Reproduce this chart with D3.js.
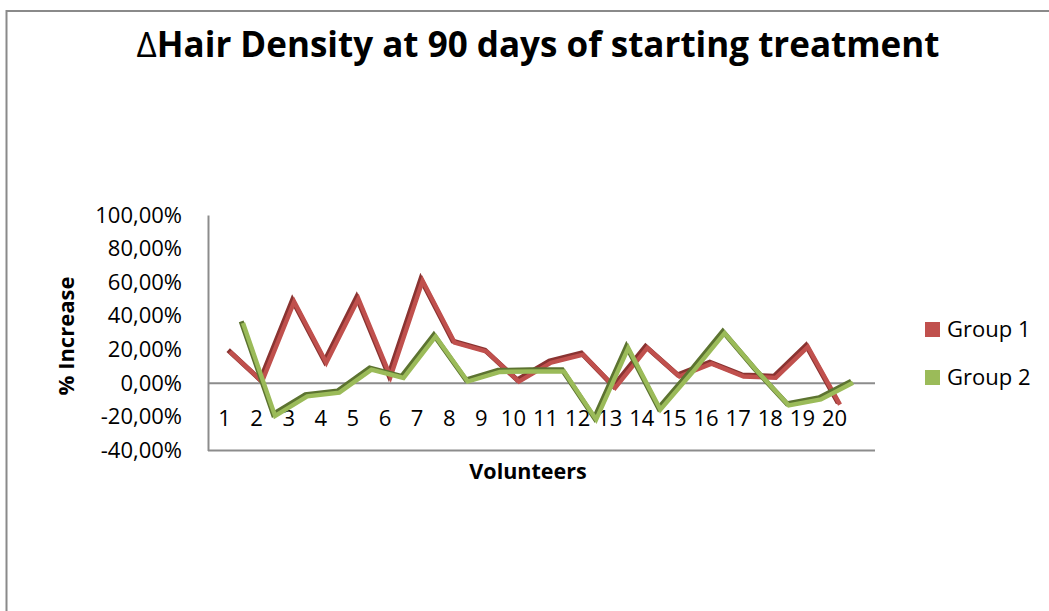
<!DOCTYPE html>
<html>
<head>
<meta charset="utf-8">
<script src="https://cdn.jsdelivr.net/npm/d3@7"></script>
<style>
  html, body { margin: 0; padding: 0; background: #ffffff; }
  svg { display: block; }
  text { font-family: "Open Sans", "Noto Sans", sans-serif; fill: #000; }
</style>
</head>
<body>
<svg id="chart" width="1049" height="611"></svg>
<script>
// Volunteers (x categories)
const categories = ["1","2","3","4","5","6","7","8","9","10",
                    "11","12","13","14","15","16","17","18","19","20"];
// % change in hair density after 90 days
const group1 = [18.7, 1.0, 48.4, 12.2, 50.2, 3.9, 60.9, 24.1, 18.7, 1.0,
                12.2, 17.0, -2.7, 21.0, 4.0, 11.6, 4.0, 3.2, 21.6, -12.7];
const group2 = [35.8, -19.4, -7.8, -5.6, 8.1, 3.1, 27.8, 1.0, 6.7, 7.0,
                7.0, -21.6, 20.9, -15.7, 6.5, 29.8, 7.5, -13.2, -9.6, 0.3];
const seriesNames = ["Group 1", "Group 2"];
const yTicks = [-40, -20, 0, 20, 40, 60, 80, 100];

const series = [
  { name: seriesNames[0], values: group1, base: "#C0504D", side: "#8A3331", depth: 6 },
  { name: seriesNames[1], values: group2, base: "#9BBB59", side: "#5C7330", depth: 19 }
];

const svg = d3.select("#chart");
const labelSize = "22px";

// chart area frame
svg.append("rect")
  .attr("x", 6.5).attr("y", 11)
  .attr("width", 1100).attr("height", 700)
  .attr("fill", "#fff")
  .attr("stroke", "#8a8a8a").attr("stroke-width", 2);

// title
const title = svg.append("text")
  .attr("x", 538).attr("y", 57)
  .attr("text-anchor", "middle")
  .style("font-size", "35px").style("font-weight", "bold");
title.append("tspan").style("font-weight", "normal").text("Δ");
title.append("tspan").text("Hair Density at 90 days of starting treatment");

// scales
const plotLeft = 208, plotRight = 875;
const y = d3.scaleLinear().domain([-40, 100]).range([450.5, 215]);
const x = d3.scalePoint().domain(categories).range([224, 834]);

const locale = d3.formatLocale({ decimal: ",", thousands: ".", grouping: [3],
                                 currency: ["", "€"], minus: "-" });
const pct = v => locale.format(".2f")(v) + "%";

// value axis
const yAxisG = svg.append("g")
  .attr("transform", `translate(${plotLeft},0)`)
  .call(d3.axisLeft(y).tickValues(yTicks).tickSize(0).tickSizeOuter(0)
        .tickPadding(26).tickFormat(pct));
yAxisG.select(".domain").attr("stroke", "#8c8c8c").attr("stroke-width", 2);
yAxisG.selectAll("text").style("font-size", labelSize).attr("fill", "#000");

// floor and zero lines
[0, -40].forEach(v => {
  svg.append("line")
    .attr("x1", plotLeft).attr("x2", plotRight)
    .attr("y1", y(v)).attr("y2", y(v))
    .attr("stroke", "#8c8c8c").attr("stroke-width", 2);
});

// category labels
const xAxisG = svg.append("g")
  .attr("transform", `translate(0,${y(0)})`)
  .call(d3.axisBottom(x).tickSize(0).tickPadding(27));
xAxisG.select(".domain").remove();
xAxisG.selectAll("text").style("font-size", labelSize).attr("fill", "#000");

// 3-D style ribbons: a darker side face behind the lit top face
series.forEach(s => {
  const line = d3.line()
    .x((d, i) => x(categories[i]) + s.depth)
    .y(d => y(d));
  const g = svg.append("g");
  g.append("path")
    .attr("d", line(s.values))
    .attr("transform", "translate(-1.8,-1.6)")
    .attr("fill", "none").attr("stroke", s.side)
    .attr("stroke-width", 5)
    .attr("stroke-linejoin", "miter").attr("stroke-miterlimit", 4);
  g.append("path")
    .attr("d", line(s.values))
    .attr("fill", "none").attr("stroke", s.base)
    .attr("stroke-width", 4.4)
    .attr("stroke-linejoin", "miter").attr("stroke-miterlimit", 4);
});

// axis titles
svg.append("text")
  .attr("transform", "translate(74,336) rotate(-90)")
  .attr("text-anchor", "middle")
  .style("font-size", labelSize).style("font-weight", "bold")
  .text("% Increase");
svg.append("text")
  .attr("x", 528).attr("y", 479)
  .attr("text-anchor", "middle")
  .style("font-size", "21.5px").style("font-weight", "bold")
  .text("Volunteers");

// legend
const legend = svg.append("g");
series.forEach((s, i) => {
  const ly = 322 + i * 48;
  legend.append("rect")
    .attr("x", 925).attr("y", ly)
    .attr("width", 15).attr("height", 15)
    .attr("fill", s.base);
  legend.append("text")
    .attr("x", 947).attr("y", ly + 15)
    .style("font-size", labelSize)
    .text(s.name);
});
</script>
</body>
</html>
